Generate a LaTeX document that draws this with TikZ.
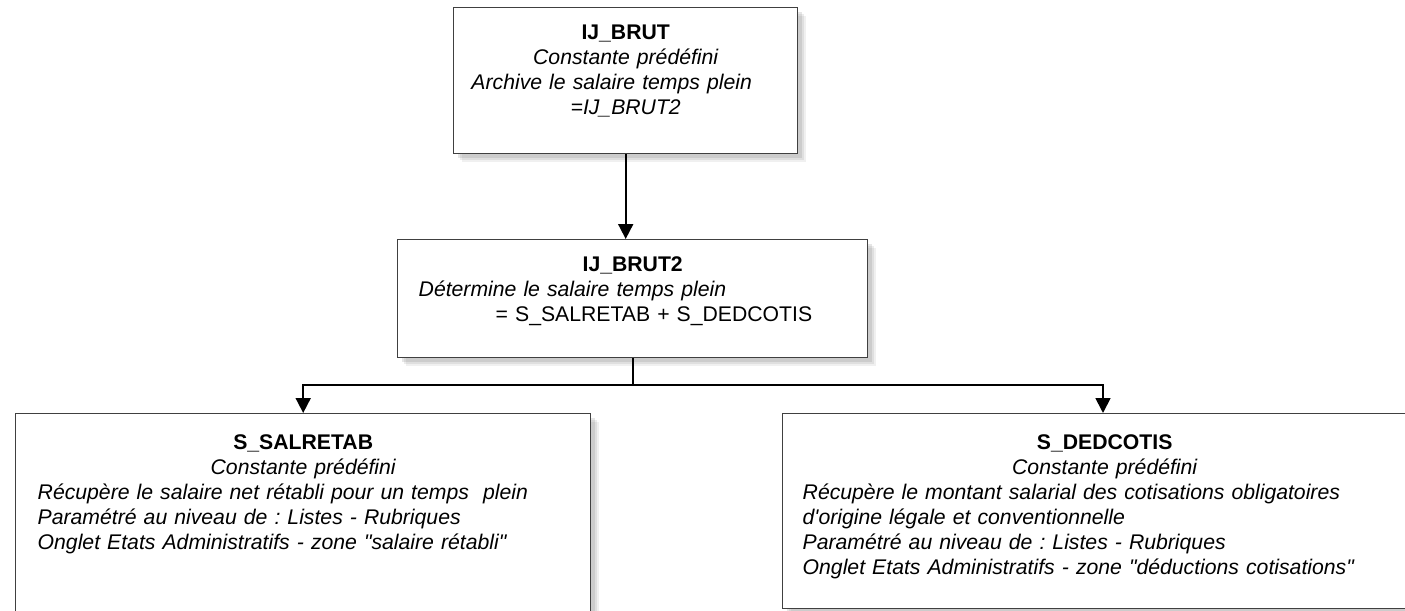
\documentclass[tikz,border=0pt]{standalone}
\usepackage{fontspec}
\setmainfont{Liberation Sans}
\usetikzlibrary{shapes,arrows.meta,positioning,shadows}

\newcommand{\midline}[1]{\makebox[\hsize]{#1}}
\newcommand{\dq}{\textquotedbl}

\tikzset{
  box/.style={draw=black!75, line width=0.7pt, fill=white, inner sep=0pt,
    anchor=north west,
    drop shadow={opacity=0.12, shadow xshift=4pt, shadow yshift=-4pt},
    drop shadow={opacity=0.15, shadow xshift=3pt, shadow yshift=-3pt},
    drop shadow={opacity=0.2, shadow xshift=2pt, shadow yshift=-2pt}},
  boxtext/.style={align=left, inner sep=0pt, anchor=north,
    font=\fontsize{10.6}{12.5}\selectfont\frenchspacing},
  link/.style={line width=0.9pt, -{Triangle[width=7.5pt,length=7.5pt]}},
  bus/.style={line width=0.9pt}
}

\begin{document}
\begin{tikzpicture}[x=0.5pt,y=-0.5pt]
  \useasboundingbox (0,0) rectangle (1405,611);

  % Boxes
  \node[box, minimum width=172pt, minimum height=73pt] (brut) at (453,7) {};
  \node[box, minimum width=235pt, minimum height=59pt] (brut2) at (397,239) {};
  \node[box, minimum width=287.5pt, minimum height=120pt] (salretab) at (15,413) {};
  \node[box, minimum width=322pt, minimum height=97.5pt] (dedcotis) at (782,413) {};

  % Texts
  \node[boxtext, text width=170pt] (brutlbl) at ([yshift=-9pt]brut.north)
    {\midline{\textbf{IJ\_BRUT}}\\
     \midline{\itshape Constante prédéfini}\\
     \midline{\itshape Archive le salaire temps plein\hspace*{14pt}}\\
     \midline{\itshape =IJ\_BRUT2}};
  \node[boxtext, text width=214pt] (brut2lbl) at ([yshift=-8.5pt]brut2.north)
    {\midline{\textbf{IJ\_BRUT2}}\\
     \textit{Détermine le salaire temps plein}\\
     \hspace*{38.5pt}= S\_SALRETAB + S\_DEDCOTIS};
  \node[boxtext, text width=265.5pt] (salretablbl) at ([yshift=-10.5pt]salretab.north)
    {\midline{\textbf{S\_SALRETAB}}\\
     \midline{\itshape Constante prédéfini}\\
     \textit{Récupère le salaire net rétabli pour un temps\ \ plein}\\
     \textit{Paramétré au niveau de : Listes - Rubriques}\\
     \textit{Onglet Etats Administratifs - zone \dq salaire rétabli\dq}};
  \node[boxtext, text width=302pt] (dedcotislbl) at ([yshift=-10.5pt]dedcotis.north)
    {\midline{\textbf{S\_DEDCOTIS}}\\
     \midline{\itshape Constante prédéfini}\\
     \textit{Récupère le montant salarial des cotisations obligatoires}\\
     \textit{d\textquotesingle origine légale et conventionnelle}\\
     \textit{Paramétré au niveau de : Listes - Rubriques}\\
     \textit{Onglet Etats Administratifs - zone \dq déductions cotisations\dq}};

  % Connectors
  \coordinate (fork) at (brut2.south |- 0,385);
  \coordinate (inL) at (salretab.north);
  \coordinate (inR) at ([xshift=160.5pt]dedcotis.north west);
  \draw[link] (brut.south) -- (brut.south |- brut2.north);
  \draw[bus] (brut2.south) -- (fork);
  \draw[link] (fork) -| (inL);
  \draw[link] (fork) -| (inR);
\end{tikzpicture}
\end{document}
